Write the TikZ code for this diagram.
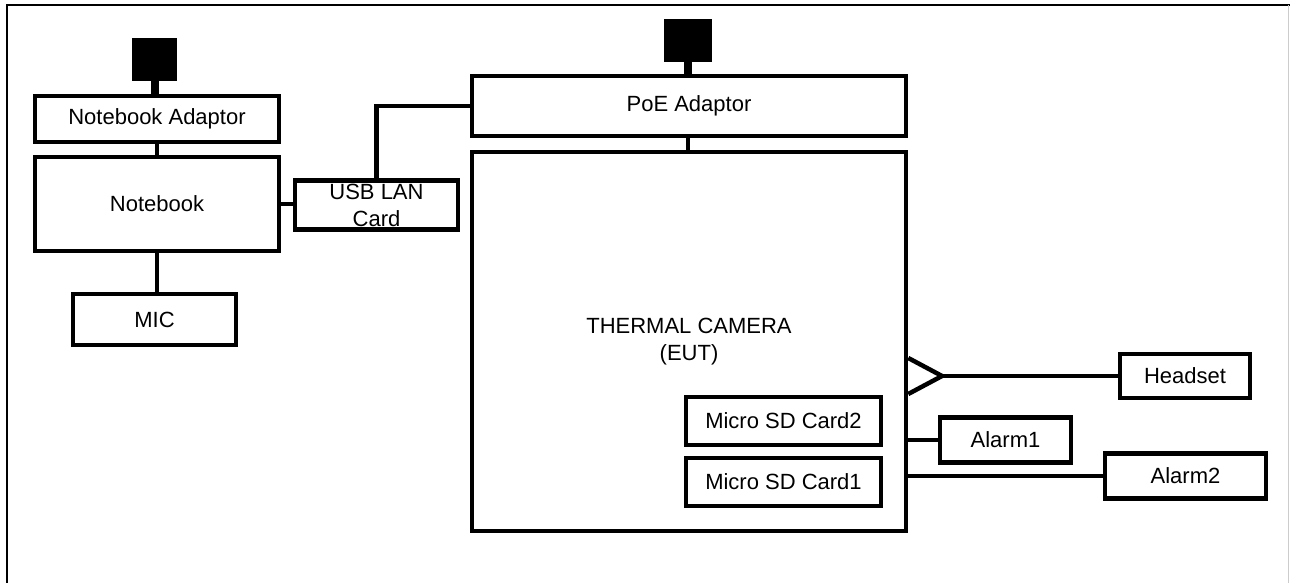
\documentclass[tikz,border=0pt]{standalone}
\usepackage{fontspec}
\setmainfont{Liberation Sans}
\usepackage{tikz}
\usetikzlibrary{positioning}

\tikzset{
  blk/.style={draw,line width=4.5pt,inner sep=0pt,align=center,
    font=\fontsize{22}{27}\selectfont},
  plug/.style={fill=black,inner sep=0pt},
  wire/.style={line width=4.5pt},
  thickwire/.style={line width=8pt}
}

\begin{document}
\begin{tikzpicture}[x=1pt,y=-1pt]
						\useasboundingbox (0,0) rectangle (1290,583);
						% frame
						\draw[line width=1.5pt] (7,583) -- (7,5) -- (1290,5);
						\draw[gray!40,line width=1pt] (1288.5,5) -- (1288.5,583);
						
						% left side
						\node[plug,minimum width=45pt,minimum height=43pt] (plugA) at (154.5,59.5) {};
						\node[blk,minimum width=244pt,minimum height=46pt] (adaptor) at (157,119) {Notebook Adaptor};
						\node[blk,minimum width=244pt,minimum height=94pt] (notebook) at (157,204) {Notebook};
						\node[blk,minimum width=163pt,minimum height=51pt] (mic) at (154.5,319.5) {MIC};
						\node[blk,minimum width=163pt,minimum height=49pt] (usblan) at (376.5,205) {USB LAN\\Card};
						
						% camera side
						\node[plug,minimum width=48pt,minimum height=43pt] (plugB) at (688,40.5) {};
						\node[blk,minimum width=434pt,minimum height=60pt] (poe) at (689,106) {PoE Adaptor};
						\node[blk,minimum width=434pt,minimum height=379pt] (camera) at (689,341.5) {THERMAL CAMERA\\(EUT)};
						\node[blk,minimum width=195pt,minimum height=48pt] (sdtwo) at (783.5,421) {Micro SD Card2};
						\node[blk,minimum width=195pt,minimum height=48pt] (sdone) at (783.5,482) {Micro SD Card1};
						
						% peripherals
						\node[blk,minimum width=130pt,minimum height=44pt] (headset) at (1185,376) {Headset};
						\node[blk,minimum width=131pt,minimum height=45pt] (alarmA) at (1005.5,440) {Alarm1};
						\node[blk,minimum width=161pt,minimum height=45pt] (alarmB) at (1185.5,476) {Alarm2};
						\coordinate (jack) at (942,376);
						
						% connections
						\draw[thickwire] (plugA.south) -- (plugA.south |- adaptor.north);
						\draw[wire] (adaptor.south) -- (notebook.north);
						\draw[wire] (notebook.south) -- (notebook.south |- mic.north);
						\draw[wire] (notebook.east) -- (notebook.east -| usblan.west);
						\draw[wire] (usblan.north) |- (poe.west);
						\draw[thickwire] (plugB.south) -- (plugB.south |- poe.north);
						\draw[wire] (poe.south -| plugB) -- (camera.north -| plugB);
						\draw[wire,line join=miter] (camera.east |- 0,358) -- (jack) -- (camera.east |- 0,394);
						\draw[wire] (jack) -- (headset.west);
						\draw[wire] (alarmA.west) -- (alarmA.west -| camera.east);
						\draw[wire] (alarmB.west) -- (alarmB.west -| camera.east);
					\end{tikzpicture}
\end{document}
